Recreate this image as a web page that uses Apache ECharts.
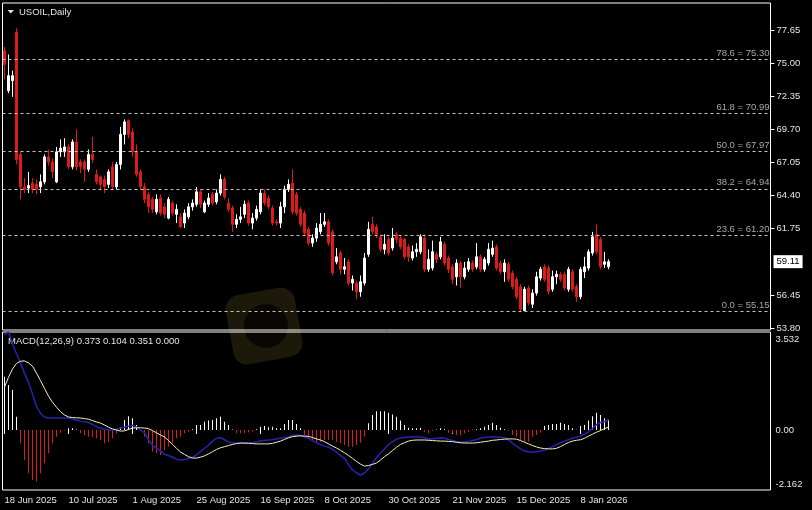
<!DOCTYPE html>
<html><head><meta charset="utf-8">
<script src="https://cdn.jsdelivr.net/npm/echarts@6/dist/echarts.min.js"></script>
<style>html,body{margin:0;padding:0;background:#000;overflow:hidden}#c{width:812px;height:510px;}</style>
</head><body><div id="c"></div>
<script>
// ---- data ----
const tickLabels = ['18 Jun 2025','10 Jul 2025','1 Aug 2025','25 Aug 2025','16 Sep 2025','8 Oct 2025','30 Oct 2025','21 Nov 2025','15 Dec 2025','8 Jan 2026'];
const priceTicks = [53.80, 56.45, 61.75, 64.40, 67.05, 69.70, 72.35, 75.00, 77.65];
const macdTicks = [-2.162, 0, 3.532];
const fibPct = ['78.6','61.8','50.0','38.2','23.6','0.0'];
const fibVal = [75.30, 70.99, 67.97, 64.94, 61.20, 55.15];
const lastPrice = 59.11;
const macdTitle = 'MACD(12,26,9) 0.373 0.104 0.351 0.000';
// [open, close, low, high]
const ohlc = [
[76.0,74.9,73.7,76.3],[72.8,74.0,72.6,75.7],[73.6,74.0,72.3,74.4],[77.5,67.3,66.9,77.8],[67.7,65.1,64.1,67.9],
[65.1,64.9,64.6,65.8],[65.0,65.2,64.6,66.3],[65.4,64.9,64.6,65.8],[65.3,64.9,64.5,65.7],[65.1,65.5,64.6,66.1],
[65.5,67.5,65.3,67.7],[67.5,67.1,66.8,68.1],[67.1,66.3,65.8,67.4],[65.5,67.9,65.4,68.3],[67.9,68.2,67.5,68.9],
[67.9,68.3,67.5,69.0],[68.3,66.7,66.5,68.5],[66.7,68.7,66.5,68.9],[68.7,66.7,66.4,69.7],[67.1,66.7,66.2,67.3],
[67.1,66.5,65.5,67.3],[66.5,67.7,66.3,68.1],[67.7,67.3,67.0,69.1],[66.1,65.5,65.3,66.5],[65.9,65.3,64.9,66.0],
[65.7,65.1,64.6,66.0],[65.3,66.3,65.0,66.5],[66.7,65.1,64.9,67.1],[65.1,66.9,64.9,67.1],[66.9,69.3,66.5,69.9],
[69.3,70.3,68.5,70.5],[70.4,69.3,69.0,70.5],[69.5,67.9,67.5,69.8],[67.9,66.1,65.9,68.5],[66.3,65.1,64.9,66.5],
[65.1,64.1,63.8,65.4],[64.5,63.5,63.0,64.7],[64.1,63.3,63.0,64.3],[63.1,64.1,62.9,64.5],[64.2,63.0,62.8,64.5],
[63.5,62.9,62.6,63.8],[62.6,64.1,62.5,64.3],[63.8,63.0,62.8,64.0],[62.9,63.3,62.2,63.7],[62.7,61.9,61.8,63.0],
[62.2,63.0,61.8,63.3],[62.7,63.5,62.5,63.8],[63.5,63.8,63.2,64.1],[63.7,64.7,63.5,65.1],[64.7,63.7,63.4,64.9],
[63.1,63.8,63.0,64.0],[63.7,64.2,63.5,64.6],[64.5,63.8,63.6,64.7],[63.9,64.6,63.7,64.9],[64.6,65.7,64.4,66.1],
[65.7,64.3,64.1,65.9],[63.8,63.3,63.1,64.2],[63.4,62.1,61.5,63.6],[62.1,62.5,61.8,62.9],[62.5,62.7,62.2,63.5],
[62.9,63.7,62.6,64.0],[63.8,62.2,62.0,64.0],[62.2,62.6,61.7,63.0],[62.6,63.3,62.4,63.6],[63.1,64.6,62.9,64.9],
[64.6,63.8,63.6,64.9],[64.2,63.5,63.3,64.4],[63.4,62.2,62.0,63.6],[62.3,62.2,62.0,62.5],[62.2,63.5,61.8,63.9],
[63.5,64.9,63.0,65.2],[64.9,65.3,64.7,65.7],[65.4,63.1,62.9,66.5],[64.5,63.0,62.8,64.7],[63.3,62.1,61.9,63.5],
[63.0,61.4,61.2,63.2],[61.7,60.6,60.4,61.9],[60.6,61.0,60.3,61.3],[61.0,61.8,60.7,62.2],[61.5,62.1,61.3,63.0],
[62.1,62.3,61.9,63.0],[62.3,60.6,60.4,62.5],[61.5,58.2,58.0,61.7],[59.1,59.5,58.9,60.2],[59.8,58.5,58.1,60.0],
[58.5,58.7,58.1,59.4],[59.1,57.4,57.2,59.3],[57.4,57.7,56.8,58.0],[57.4,56.7,56.1,57.6],[56.7,57.5,56.3,58.0],
[57.4,59.4,57.2,59.8],[59.7,61.7,59.5,62.3],[62.1,61.5,61.3,62.7],[61.9,61.3,61.0,62.1],[61.1,60.1,59.9,61.3],
[60.1,60.5,59.7,61.3],[60.9,59.8,59.6,61.1],[60.2,61.0,60.0,61.8],[61.3,60.9,60.6,61.5],[61.0,60.3,60.1,61.2],
[60.9,59.5,59.3,61.0],[60.3,59.5,59.1,60.5],[59.4,59.9,59.2,60.4],[59.9,60.1,59.5,60.6],[59.9,61.1,59.7,61.3],
[61.0,58.5,58.3,61.3],[58.5,59.3,58.3,60.1],[58.6,59.9,58.4,60.8],[59.7,59.3,59.0,59.9],[59.5,60.7,59.3,61.1],
[60.5,59.0,58.8,60.7],[59.4,58.5,58.2,59.6],[58.7,57.7,57.3,58.9],[57.9,59.0,57.2,59.3],[59.0,57.9,57.0,59.2],
[57.9,58.6,57.7,59.1],[58.5,59.1,58.3,59.4],[59.0,58.5,58.3,59.2],[58.7,59.5,58.5,60.6],[59.5,58.5,58.3,59.7],
[58.5,59.3,58.3,59.5],[59.0,60.1,58.8,60.6],[59.7,60.2,59.5,60.8],[60.3,58.6,58.4,60.5],[59.0,58.3,58.1,59.2],
[58.3,59.0,57.5,59.3],[58.9,57.7,57.5,59.1],[58.2,57.1,56.9,58.4],[57.7,56.3,56.1,57.9],[57.1,55.3,55.15,57.3],
[55.2,56.9,55.15,57.1],[57.0,55.8,55.6,57.2],[55.7,56.6,55.4,56.9],[56.6,57.9,56.4,58.3],[57.8,58.5,57.6,58.7],
[58.7,57.7,57.5,58.9],[58.6,56.7,56.5,58.8],[56.9,57.9,56.7,58.4],[57.9,58.1,57.3,58.4],[58.1,57.7,57.5,58.3],
[58.1,57.0,56.8,58.3],[56.9,58.5,56.7,58.7],[58.3,56.9,56.7,58.5],[57.1,56.3,55.9,57.3],[56.3,58.5,56.1,58.7],
[58.3,58.7,57.8,59.5],[58.6,59.9,58.4,60.1],[59.8,61.1,59.6,61.5],[61.3,59.9,59.7,62.1],[60.9,58.7,58.5,61.1],
[58.9,59.1,58.6,59.9],[58.7,59.11,58.5,59.3]
];
const macdHist = [
1.92,1.62,1.44,0.48,-0.48,-1.08,-1.56,-1.80,-1.86,-1.56,
-1.20,-0.84,-0.48,-0.24,-0.10,-0.02,0.06,0.06,0.02,-0.12,
-0.18,-0.24,-0.26,-0.30,-0.36,-0.48,-0.42,-0.30,-0.12,0.10,
0.36,0.50,0.42,0.18,-0.04,-0.24,-0.48,-0.78,-0.84,-0.90,
-0.72,-0.60,-0.48,-0.30,-0.24,-0.12,-0.06,0.03,0.18,0.18,
0.30,0.34,0.36,0.42,0.48,0.30,0.18,0.02,-0.12,-0.12,
-0.12,-0.09,-0.05,0.03,0.12,0.14,0.10,0.12,0.06,0.06,
0.22,0.36,0.36,0.22,0.06,-0.18,-0.30,-0.36,-0.42,-0.42,
-0.36,-0.36,-0.36,-0.42,-0.48,-0.54,-0.60,-0.60,-0.54,-0.46,
-0.24,0.24,0.54,0.68,0.68,0.68,0.62,0.56,0.48,0.34,
0.18,0.08,0.06,0.06,0.08,-0.06,-0.12,-0.04,0.02,0.06,
0.03,-0.10,-0.12,-0.18,-0.18,-0.12,-0.06,0.01,0.03,0.06,
0.12,0.18,0.26,0.18,0.08,0.03,-0.03,-0.18,-0.24,-0.36,
-0.42,-0.42,-0.24,-0.18,-0.09,0.14,0.18,0.22,0.22,0.26,
0.22,0.18,0.06,0.01,0.14,0.18,0.34,0.50,0.62,0.54,
0.42,0.373
];
const macdMain = [
3.45,3.53,3.10,2.75,2.41,2.05,1.72,1.30,0.85,0.60,
0.47,0.43,0.43,0.43,0.43,0.43,0.43,0.40,0.36,0.32,
0.30,0.27,0.20,0.12,0.07,0.03,0.00,0.00,0.03,0.07,
0.10,0.14,0.17,0.10,0.00,-0.10,-0.35,-0.55,-0.65,-0.75,
-0.88,-0.92,-0.98,-1.05,-1.08,-1.06,-1.02,-0.98,-0.90,-0.78,
-0.66,-0.55,-0.40,-0.30,-0.27,-0.35,-0.43,-0.47,-0.47,-0.47,
-0.47,-0.47,-0.45,-0.43,-0.40,-0.38,-0.36,-0.35,-0.32,-0.30,
-0.28,-0.25,-0.20,-0.18,-0.20,-0.25,-0.30,-0.38,-0.46,-0.52,
-0.58,-0.62,-0.70,-0.80,-0.92,-1.02,-1.25,-1.44,-1.55,-1.62,
-1.55,-1.40,-1.20,-1.00,-0.83,-0.68,-0.52,-0.42,-0.33,-0.29,
-0.27,-0.25,-0.25,-0.25,-0.25,-0.28,-0.32,-0.32,-0.30,-0.28,
-0.30,-0.34,-0.38,-0.42,-0.43,-0.43,-0.41,-0.38,-0.35,-0.30,
-0.27,-0.25,-0.24,-0.25,-0.26,-0.28,-0.35,-0.48,-0.58,-0.68,
-0.76,-0.78,-0.80,-0.78,-0.76,-0.72,-0.66,-0.60,-0.52,-0.46,
-0.40,-0.35,-0.30,-0.26,-0.22,-0.15,-0.07,0.05,0.20,0.27,
0.31,0.351
];
const macdSignal = [
1.55,1.90,2.20,2.40,2.48,2.49,2.42,2.30,2.05,1.78,
1.50,1.22,1.00,0.82,0.66,0.54,0.47,0.45,0.44,0.43,
0.41,0.39,0.34,0.29,0.25,0.18,0.10,0.04,0.00,-0.04,
-0.03,0.02,0.07,0.08,0.08,0.07,0.05,-0.02,-0.10,-0.18,
-0.25,-0.38,-0.52,-0.66,-0.79,-0.88,-0.96,-1.01,-1.01,-0.98,
-0.93,-0.86,-0.78,-0.70,-0.64,-0.60,-0.56,-0.52,-0.49,-0.47,
-0.47,-0.48,-0.49,-0.50,-0.50,-0.50,-0.50,-0.48,-0.44,-0.40,
-0.34,-0.28,-0.24,-0.22,-0.21,-0.22,-0.23,-0.27,-0.32,-0.36,
-0.42,-0.50,-0.58,-0.65,-0.73,-0.82,-0.92,-1.02,-1.13,-1.23,
-1.30,-1.28,-1.24,-1.19,-1.08,-0.96,-0.86,-0.74,-0.62,-0.52,
-0.46,-0.40,-0.37,-0.36,-0.36,-0.36,-0.37,-0.38,-0.39,-0.40,
-0.40,-0.41,-0.42,-0.44,-0.46,-0.47,-0.47,-0.47,-0.46,-0.44,
-0.42,-0.40,-0.37,-0.36,-0.34,-0.33,-0.32,-0.32,-0.33,-0.38,
-0.44,-0.50,-0.56,-0.61,-0.65,-0.67,-0.68,-0.68,-0.66,-0.60,
-0.52,-0.45,-0.40,-0.37,-0.35,-0.30,-0.22,-0.15,-0.08,-0.02,
0.05,0.104
];

// ---- chart ----
const SLOTS = 192;           // bar slots across the pane (data + empty right margin)
const STEP = 16;             // bars between time labels
const slots = Array.from({length: SLOTS}, (_, i) => String(i));
const F = "'Liberation Sans', Arial, sans-serif";
const RED = '#dc1c1c';
const TXT = '#e4e4e4';
const showTick = (i) => i % STEP === 0 && i / STEP < tickLabels.length;

const chart = echarts.init(document.getElementById('c'), null, {renderer: 'canvas'});
chart.setOption({
  backgroundColor: '#000',
  animation: false,
  grid: [
    {left: 2.5, top: 3, width: 768, height: 327, show: true, borderColor: '#fff', borderWidth: 1, backgroundColor: 'transparent'},
    {left: 2.5, top: 332, width: 768, height: 158, show: true, borderColor: '#fff', borderWidth: 1, backgroundColor: 'transparent'}
  ],
  xAxis: [
    {type: 'category', gridIndex: 0, data: slots, boundaryGap: true, show: false},
    {type: 'category', gridIndex: 1, data: slots, boundaryGap: true,
     axisLine: {show: false},
     splitLine: {show: false},
     axisTick: {show: true, alignWithLabel: true, interval: showTick, length: 4, lineStyle: {color: '#fff'}},
     axisLabel: {interval: showTick, formatter: (v, i) => tickLabels[i / STEP] || '', color: TXT,
                 fontSize: 9.5, fontFamily: F, align: 'left', margin: 5, hideOverlap: false}}
  ],
  yAxis: [
    {type: 'value', gridIndex: 0, position: 'right', min: 53.64, max: 79.82, scale: true,
     splitLine: {show: false}, axisLine: {show: false},
     axisTick: {show: true, customValues: priceTicks, length: 4, lineStyle: {color: '#fff'}},
     axisLabel: {customValues: priceTicks, formatter: v => v.toFixed(2), color: TXT, fontSize: 9.5, fontFamily: F, margin: 6}},
    {type: 'value', gridIndex: 1, position: 'right', min: macdTicks[0], max: macdTicks[2],
     splitLine: {show: false}, axisLine: {show: false},
     axisTick: {show: false, customValues: macdTicks},
     axisLabel: {customValues: macdTicks, margin: 5,
       formatter: v => v >= macdTicks[2] ? '{t|' + v.toFixed(3) + '}' : (v <= macdTicks[0] ? '{b|' + v.toFixed(3) + '}' : '{m|' + v.toFixed(2) + '}'),
       rich: {
         t: {color: TXT, fontSize: 9.5, fontFamily: F, padding: [14, 0, 0, 0]},
         b: {color: TXT, fontSize: 9.5, fontFamily: F, padding: [0, 0, 12, 0]},
         m: {color: TXT, fontSize: 9.5, fontFamily: F}
       }}}
  ],
  series: [
    {type: 'candlestick', xAxisIndex: 0, yAxisIndex: 0, data: ohlc, barWidth: 2, z: 3,
     itemStyle: {color: '#ffffff', color0: RED, borderColor: '#ffffff', borderColor0: RED, borderWidth: 1},
     markLine: {
       silent: true, symbol: ['none', 'none'], animation: false,
       data: fibVal.map((v, k) => ({
         yAxis: v,
         lineStyle: {color: '#c4c4c4', type: [3, 3], width: 1},
         label: {show: true, position: 'insideEndTop', formatter: fibPct[k] + ' = ' + v.toFixed(2),
                 color: '#a8a8a8', fontSize: 9.5, fontFamily: F, distance: [1, 1]}
       })).concat([{
         yAxis: lastPrice,
         lineStyle: {color: 'rgba(0,0,0,0)', width: 1, type: 'solid'},
         label: {show: true, position: 'end', formatter: lastPrice.toFixed(2), backgroundColor: '#ffffff',
                 color: '#000000', fontSize: 9.5, fontFamily: F, padding: [2, 3, 1, 3], distance: 3}
       }])
     }},
    {type: 'bar', xAxisIndex: 1, yAxisIndex: 1, data: macdHist, barWidth: 1, z: 2,
     itemStyle: {color: p => p.value >= 0 ? '#ffffff' : RED}},
    {type: 'line', xAxisIndex: 1, yAxisIndex: 1, data: macdMain, symbol: 'none', z: 3,
     lineStyle: {color: '#2424b0', width: 1.5}},
    {type: 'line', xAxisIndex: 1, yAxisIndex: 1, data: macdSignal, symbol: 'none', z: 4,
     lineStyle: {color: '#f4f4b0', width: 1}}
  ],
  graphic: [
    {type: 'rect', z: -1, rotation: 0.18, originX: 264, originY: 326,
     shape: {x: 229, y: 291, width: 70, height: 70, r: 14}, style: {fill: '#1c180a'}},
    {type: 'circle', z: -1, shape: {cx: 266, cy: 326, r: 22}, style: {fill: '#080703'}},
    {type: 'polygon', shape: {points: [[7.5, 10], [14, 10], [10.75, 13.5]]}, style: {fill: TXT}},
    {type: 'text', x: 19, y: 12, style: {text: 'USOIL,Daily', fill: TXT, font: '9.5px ' + F, verticalAlign: 'middle'}},
    {type: 'text', x: 8, y: 341.5, style: {text: macdTitle, fill: TXT, font: '9.5px ' + F, verticalAlign: 'middle'}}
  ]
});
</script>
</body></html>
